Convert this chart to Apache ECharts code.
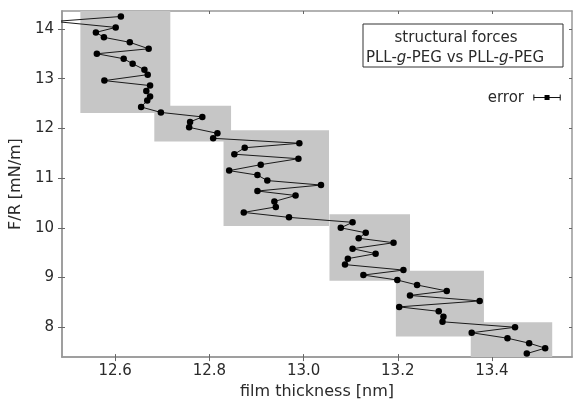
<!DOCTYPE html>
<html>
<head>
<meta charset="utf-8">
<script src="https://cdn.jsdelivr.net/npm/echarts@6/dist/echarts.min.js"></script>
<style>
html, body { margin: 0; padding: 0; background: #fff; }
#chart { width: 580px; height: 405px; }
</style>
</head>
<body>
<div id="chart"></div>
<script>
// film thickness [nm] and F/R [mN/m], in measurement order
var thickness = [12.612, 12.472, 12.601, 12.559, 12.576, 12.631, 12.671, 12.561, 12.618, 12.637,
  12.662, 12.669, 12.577, 12.674, 12.666, 12.674, 12.668, 12.655, 12.697, 12.785,
  12.759, 12.757, 12.817, 12.808, 12.991, 12.875, 12.853, 12.989, 12.909, 12.842,
  12.902, 12.923, 13.037, 12.902, 12.983, 12.938, 12.941, 12.873, 12.969, 13.104,
  13.079, 13.132, 13.117, 13.191, 13.104, 13.153, 13.094, 13.088, 13.212, 13.127,
  13.199, 13.241, 13.304, 13.226, 13.374, 13.203, 13.287, 13.297, 13.295, 13.449,
  13.357, 13.433, 13.479, 13.513, 13.474]
var force = [14.25, 14.15, 14.03, 13.93, 13.83, 13.73, 13.60, 13.50, 13.40, 13.30,
  13.18, 13.08, 12.96, 12.86, 12.75, 12.64, 12.56, 12.43, 12.32, 12.23,
  12.13, 12.02, 11.90, 11.80, 11.70, 11.61, 11.48, 11.39, 11.27, 11.15,
  11.06, 10.95, 10.86, 10.74, 10.65, 10.53, 10.42, 10.31, 10.21, 10.11,
  10.00, 9.90, 9.79, 9.70, 9.58, 9.48, 9.38, 9.26, 9.15, 9.05,
  8.95, 8.85, 8.73, 8.64, 8.53, 8.41, 8.32, 8.21, 8.11, 8.00,
  7.89, 7.78, 7.68, 7.58, 7.47]

// grey blocks: [x0, x1, y0, y1]
var blocks = [
  [12.526, 12.717, 12.31, 14.36],
  [12.683, 12.846, 11.735, 12.457],
  [12.830, 13.054, 10.038, 11.962],
  [13.055, 13.226, 8.936, 10.273],
  [13.196, 13.383, 7.814, 9.136],
  [13.355, 13.528, 7.40, 8.102]
]

// error marker: [x, y, half width]
var errorMark = [[13.517, 12.62, 0.028]]

var xTicks = [12.6, 12.8, 13.0, 13.2, 13.4]
var yTicks = [8, 9, 10, 11, 12, 13, 14]

var font = 'DejaVu Sans'
var frameColor = '#999'
var textColor = '#2a2a2a'
var xMin = 12.487, xMax = 13.570
var yMin = 7.40, yMax = 14.36

// plain frame axis without labels (for the other sides / inner ticks)
function frameAxis(pos, ticks, inside, min, max) {
  return {
    type: 'value',
    position: pos,
    min: min,
    max: max,
    axisLine: { show: true, lineStyle: { color: frameColor, width: 1.5 } },
    axisTick: { show: true, inside: inside, length: 3, customValues: ticks, lineStyle: { color: '#666' } },
    axisLabel: { show: false },
    splitLine: { show: false }
  }
}

var chart = echarts.init(document.getElementById('chart'))

var points = thickness.map(function (t, i) { return [t, force[i]] })

var option = {
  backgroundColor: '#fff',
  animation: false,
  grid: { left: 62, right: 8, top: 11, bottom: 47 },
  xAxis: [{
    type: 'value',
    min: xMin,
    max: xMax,
    name: 'film thickness [nm]',
    nameLocation: 'middle',
    nameGap: 26,
    nameTextStyle: { fontFamily: font, fontSize: 16, color: textColor },
    axisLine: { show: true, lineStyle: { color: frameColor, width: 1.5 } },
    axisTick: { show: true, length: 4, customValues: xTicks, lineStyle: { color: '#666' } },
    axisLabel: {
      customValues: xTicks,
      margin: 7,
      fontFamily: font, fontSize: 15, color: textColor,
      formatter: function (v) { return v.toFixed(1) }
    },
    splitLine: { show: false }
  },
  frameAxis('top', xTicks, true, xMin, xMax),
  frameAxis('bottom', xTicks, true, xMin, xMax)],
  yAxis: [{
    type: 'value',
    min: yMin,
    max: yMax,
    name: 'F/R [mN/m]',
    nameLocation: 'middle',
    nameGap: 38,
    nameTextStyle: { fontFamily: font, fontSize: 16, color: textColor },
    axisLine: { show: true, lineStyle: { color: frameColor, width: 1.5 } },
    axisTick: { show: true, length: 4, customValues: yTicks, lineStyle: { color: '#666' } },
    axisLabel: {
      customValues: yTicks,
      margin: 8,
      fontFamily: font, fontSize: 15, color: textColor
    },
    splitLine: { show: false }
  },
  frameAxis('right', yTicks, true, yMin, yMax),
  frameAxis('left', yTicks, true, yMin, yMax)],
  graphic: [{
    type: 'rect',
    shape: { x: 363, y: 24, width: 200, height: 43 },
    style: { fill: '#fff', stroke: '#333', lineWidth: 1 },
    z: 10
  }, {
    type: 'text',
    x: 456, y: 38,
    style: {
      text: 'structural forces',
      fontFamily: font, fontSize: 15, fill: textColor,
      align: 'center', verticalAlign: 'middle'
    },
    z: 11
  }, {
    type: 'text',
    x: 455, y: 58,
    style: {
      text: '{n|PLL-}{i|g}{n|-PEG vs PLL-}{i|g}{n|-PEG}',
      align: 'center', verticalAlign: 'middle',
      rich: {
        n: { fontFamily: font, fontSize: 15, fill: textColor },
        i: { fontFamily: font, fontSize: 15, fontStyle: 'italic', fill: textColor }
      }
    },
    z: 11
  }, {
    type: 'text',
    x: 524, y: 98,
    style: {
      text: 'error',
      fontFamily: font, fontSize: 15, fill: textColor,
      align: 'right', verticalAlign: 'middle'
    },
    z: 11
  }],
  series: [{
    type: 'custom',
    name: 'blocks',
    z: 1,
    clip: true,
    data: blocks,
    encode: { x: [0, 1], y: [2, 3] },
    renderItem: function (params, api) {
      var p0 = api.coord([api.value(0), api.value(3)])
      var p1 = api.coord([api.value(1), api.value(2)])
      return {
        type: 'rect',
        shape: { x: p0[0], y: p0[1], width: p1[0] - p0[0], height: p1[1] - p0[1] },
        style: { fill: '#c6c6c6' }
      }
    }
  }, {
    type: 'line',
    name: 'structural forces',
    z: 3,
    data: points,
    clip: true,
    symbol: 'circle',
    symbolSize: 6.5,
    itemStyle: { color: '#000' },
    lineStyle: { color: '#1a1a1a', width: 1 }
  }, {
    type: 'custom',
    name: 'error',
    z: 4,
    data: errorMark,
    renderItem: function (params, api) {
      var x = api.value(0), y = api.value(1), e = api.value(2)
      var l = api.coord([x - e, y])
      var r = api.coord([x + e, y])
      var c = api.coord([x, y])
      var st = { stroke: '#111', lineWidth: 1 }
      return {
        type: 'group',
        children: [
          { type: 'line', shape: { x1: l[0], y1: l[1], x2: r[0], y2: r[1] }, style: st },
          { type: 'line', shape: { x1: l[0], y1: l[1] - 3, x2: l[0], y2: l[1] + 3 }, style: st },
          { type: 'line', shape: { x1: r[0], y1: r[1] - 3, x2: r[0], y2: r[1] + 3 }, style: st },
          { type: 'rect', shape: { x: c[0] - 2.5, y: c[1] - 2.5, width: 5, height: 5 }, style: { fill: '#000' } }
        ]
      }
    }
  }]
}

chart.setOption(option)
</script>
</body>
</html>
